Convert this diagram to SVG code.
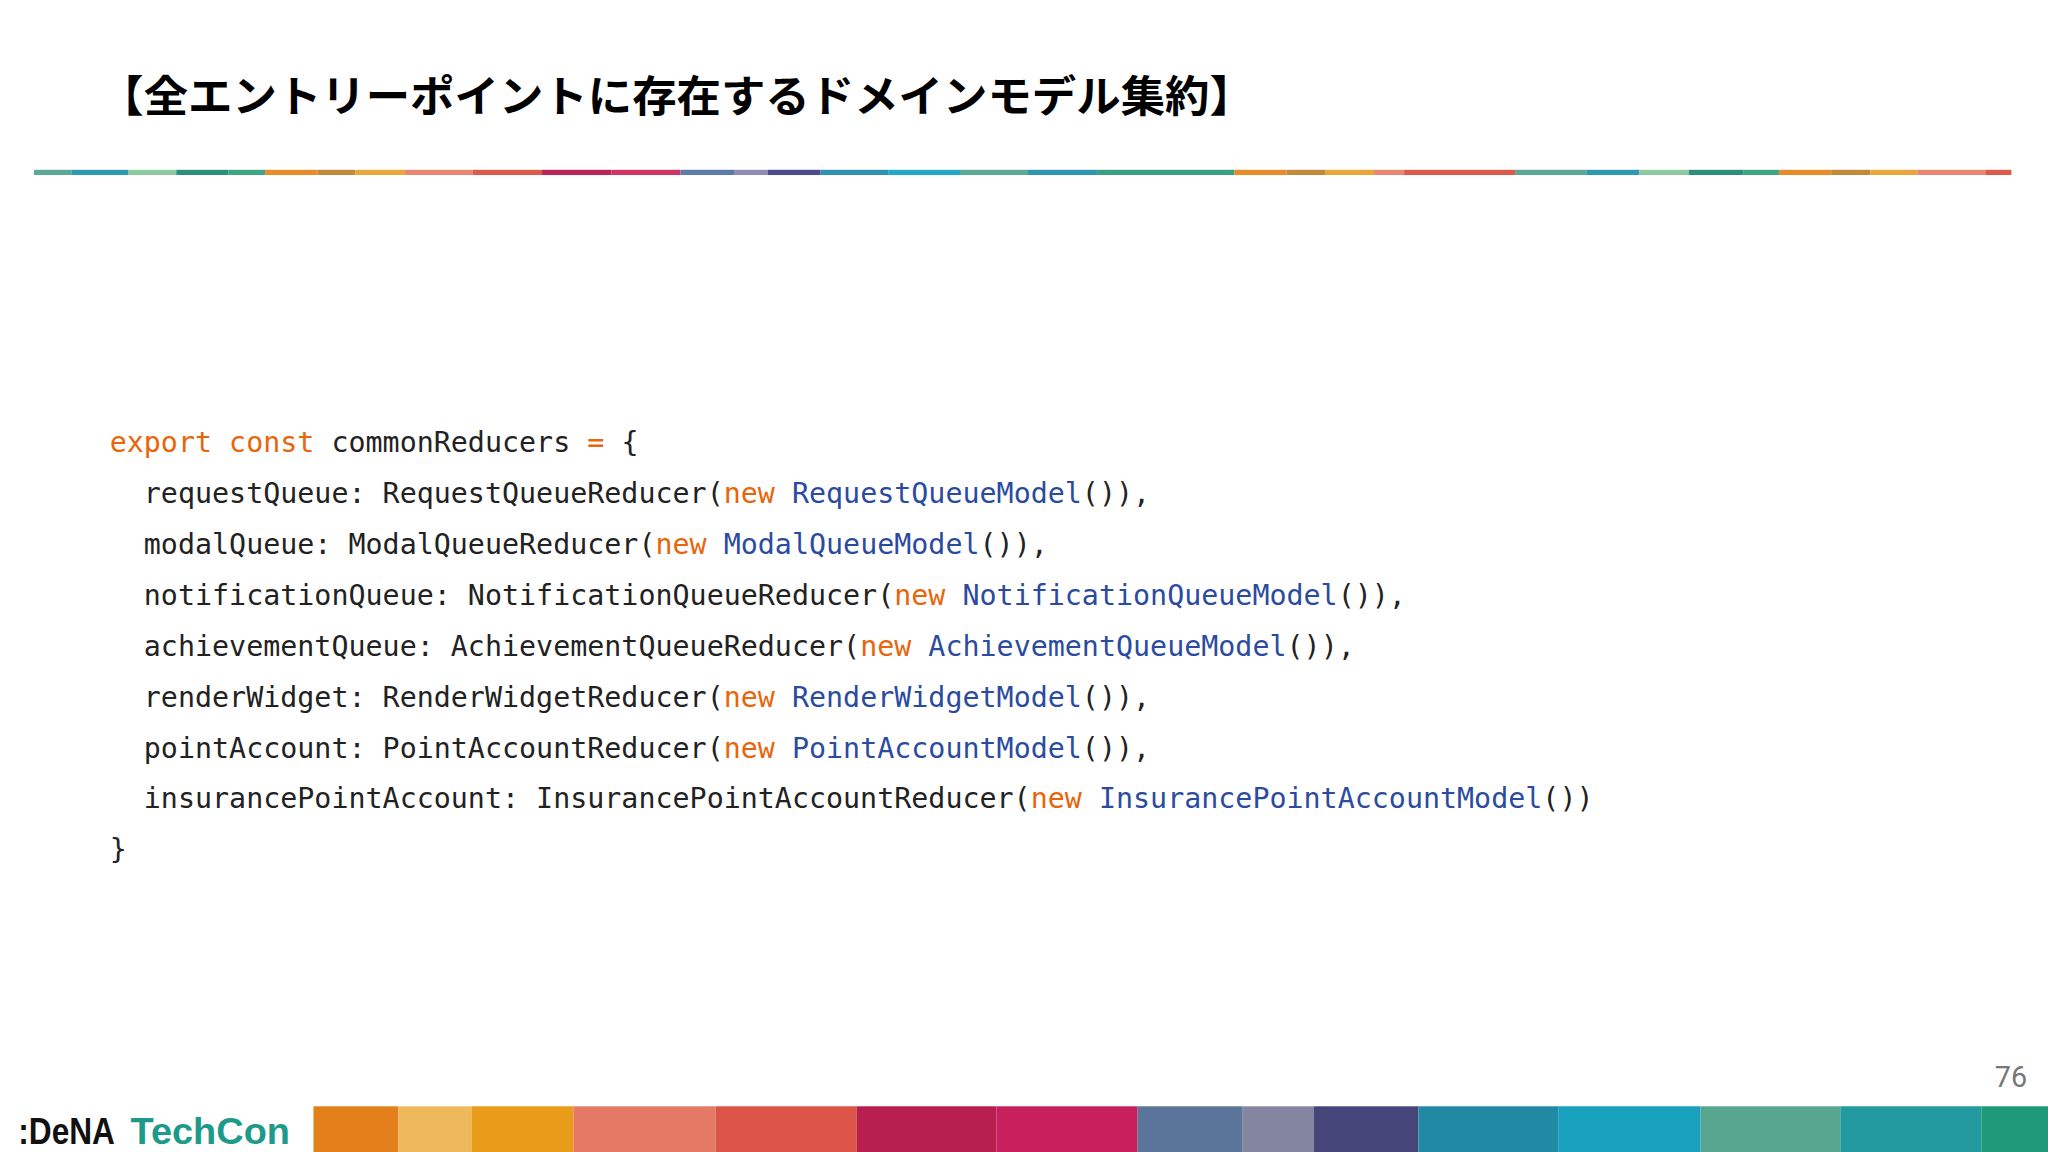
<svg xmlns="http://www.w3.org/2000/svg" width="2048" height="1152" viewBox="0 0 2048 1152">
<style>
.c{font-family:"DejaVu Sans Mono","Liberation Mono",monospace;font-size:21.7px;fill:#222;white-space:pre}
.k{fill:#E8650A}.m{fill:#2B4BA0}
</style>
<rect width="2048" height="1152" fill="#fff"/>
<g transform="scale(1.30612)">
<g id="title"><text x="76" y="86" font-family="Noto Sans CJK JP,sans-serif" font-weight="bold" font-size="33" textLength="884" lengthAdjust="spacingAndGlyphs">【全エントリーポイントに存在するドメインモデル集約】</text></g>
<g id="topline">
<rect x="26" y="130" width="29" height="4" fill="#5BA89A"/><rect x="55" y="130" width="43" height="4" fill="#2E9AB0"/><rect x="98" y="130" width="37" height="4" fill="#8EC9A0"/><rect x="135" y="130" width="40" height="4" fill="#2E8E7E"/><rect x="175" y="130" width="28" height="4" fill="#3FA584"/><rect x="203" y="130" width="40" height="4" fill="#E88B2A"/><rect x="243" y="130" width="29" height="4" fill="#C08A3A"/><rect x="272" y="130" width="38" height="4" fill="#E9A63A"/><rect x="310" y="130" width="52" height="4" fill="#E88774"/><rect x="362" y="130" width="53" height="4" fill="#DC5A4C"/><rect x="415" y="130" width="53" height="4" fill="#BC2456"/><rect x="468" y="130" width="53" height="4" fill="#D03464"/><rect x="521" y="130" width="41" height="4" fill="#5E7AA8"/><rect x="562" y="130" width="26" height="4" fill="#8E8CB0"/><rect x="588" y="130" width="40" height="4" fill="#4C4C8A"/><rect x="628" y="130" width="52" height="4" fill="#2E92B0"/><rect x="680" y="130" width="55" height="4" fill="#22A8C8"/><rect x="735" y="130" width="52" height="4" fill="#5AAA96"/><rect x="787" y="130" width="53" height="4" fill="#2E96B0"/><rect x="840" y="130" width="105" height="4" fill="#3A9E82"/><rect x="945" y="130" width="40" height="4" fill="#E88C2A"/><rect x="985" y="130" width="30" height="4" fill="#C08A3A"/><rect x="1015" y="130" width="37" height="4" fill="#E9A63A"/><rect x="1052" y="130" width="23" height="4" fill="#E88774"/><rect x="1075" y="130" width="85" height="4" fill="#DC5A4C"/><rect x="1160" y="130" width="55" height="4" fill="#5BA89A"/><rect x="1215" y="130" width="40" height="4" fill="#2E9AB0"/><rect x="1255" y="130" width="38" height="4" fill="#8EC9A0"/><rect x="1293" y="130" width="42" height="4" fill="#2E8E7E"/><rect x="1335" y="130" width="27" height="4" fill="#3FA584"/><rect x="1362" y="130" width="40" height="4" fill="#E88B2A"/><rect x="1402" y="130" width="30" height="4" fill="#C08A3A"/><rect x="1432" y="130" width="36" height="4" fill="#E9A63A"/><rect x="1468" y="130" width="52" height="4" fill="#E88774"/><rect x="1520" y="130" width="20" height="4" fill="#DC5A4C"/>
</g>
<g id="code">
<text class="c" x="84" y="346"><tspan class="k">export const</tspan> commonReducers <tspan class="k">=</tspan> {</text>
<text class="c" x="84" y="385">  requestQueue: RequestQueueReducer(<tspan class="k">new</tspan> <tspan class="m">RequestQueueModel</tspan>()),</text>
<text class="c" x="84" y="424">  modalQueue: ModalQueueReducer(<tspan class="k">new</tspan> <tspan class="m">ModalQueueModel</tspan>()),</text>
<text class="c" x="84" y="463">  notificationQueue: NotificationQueueReducer(<tspan class="k">new</tspan> <tspan class="m">NotificationQueueModel</tspan>()),</text>
<text class="c" x="84" y="502">  achievementQueue: AchievementQueueReducer(<tspan class="k">new</tspan> <tspan class="m">AchievementQueueModel</tspan>()),</text>
<text class="c" x="84" y="541">  renderWidget: RenderWidgetReducer(<tspan class="k">new</tspan> <tspan class="m">RenderWidgetModel</tspan>()),</text>
<text class="c" x="84" y="580">  pointAccount: PointAccountReducer(<tspan class="k">new</tspan> <tspan class="m">PointAccountModel</tspan>()),</text>
<text class="c" x="84" y="619">  insurancePointAccount: InsurancePointAccountReducer(<tspan class="k">new</tspan> <tspan class="m">InsurancePointAccountModel</tspan>())</text>
<text class="c" x="84" y="658">}</text>
</g>
<g id="pagenum"><text x="1552" y="832" text-anchor="end" font-family="Roboto,sans-serif" font-size="22" fill="#777">76</text></g>
<g id="logo">
<text x="14" y="876" font-family="Liberation Sans,sans-serif" font-weight="bold" font-size="28" fill="#111" textLength="74" lengthAdjust="spacingAndGlyphs">:DeNA</text>
<text x="100" y="876" font-family="Liberation Sans,sans-serif" font-weight="bold" font-size="28" fill="#1E9A8A" textLength="122" lengthAdjust="spacingAndGlyphs">TechCon</text>
</g>
<g id="bottombar">
<rect x="240" y="847" width="65" height="35" fill="#E3801B"/><rect x="305" y="847" width="56" height="35" fill="#EDB95A"/><rect x="361" y="847" width="78" height="35" fill="#E89C1A"/><rect x="439" y="847" width="109" height="35" fill="#E47A66"/><rect x="548" y="847" width="108" height="35" fill="#DC5448"/><rect x="656" y="847" width="107" height="35" fill="#B71F4E"/><rect x="763" y="847" width="108" height="35" fill="#C8205C"/><rect x="871" y="847" width="80" height="35" fill="#5A7599"/><rect x="951" y="847" width="55" height="35" fill="#8486A0"/><rect x="1006" y="847" width="80" height="35" fill="#45457A"/><rect x="1086" y="847" width="107" height="35" fill="#2189A3"/><rect x="1193" y="847" width="109" height="35" fill="#18A1BF"/><rect x="1302" y="847" width="107" height="35" fill="#57A68F"/><rect x="1409" y="847" width="108" height="35" fill="#2399A0"/><rect x="1517" y="847" width="51" height="35" fill="#1E9A78"/>
</g>
</g>
</svg>
